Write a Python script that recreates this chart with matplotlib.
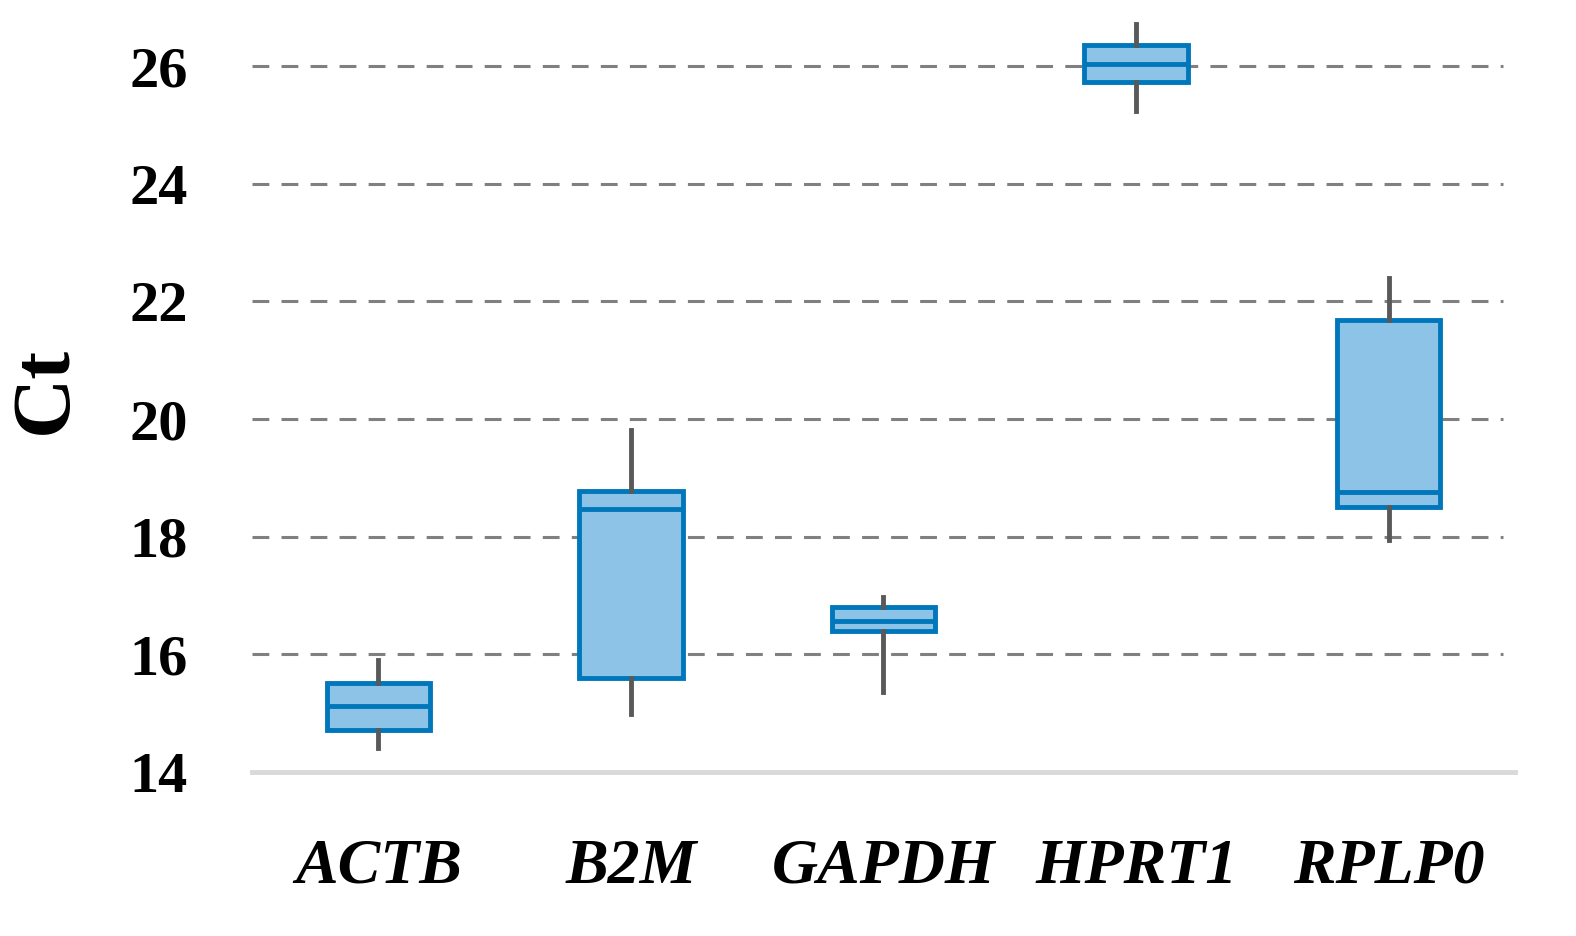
import matplotlib.pyplot as plt

genes = ['ACTB', 'B2M', 'GAPDH', 'HPRT1', 'RPLP0']
whis_lo = [14.41, 14.99, 15.36, 25.23, 17.94]
q1 = [14.72, 15.60, 16.40, 25.73, 18.50]
med = [15.12, 18.47, 16.57, 26.03, 18.76]
q3 = [15.52, 18.77, 16.81, 26.36, 21.69]
whis_hi = [15.91, 19.81, 16.97, 26.71, 22.40]
yticks = [14, 16, 18, 20, 22, 24, 26]

edge = '#0077BB'
fill = '#8DC3E6'
wcol = '#595959'

fig = plt.figure(figsize=(15.76, 9.36), dpi=100)
ax = fig.add_axes([252/1576, 1 - 772/936, (1515-252)/1576, (772-20)/936])

stats = []
for i in range(len(genes)):
    stats.append({'whislo': whis_lo[i], 'q1': q1[i], 'med': med[i],
                  'q3': q3[i], 'whishi': whis_hi[i], 'label': genes[i]})

ax.bxp(stats, positions=range(len(genes)), widths=0.41, patch_artist=True,
       showfliers=False, showcaps=False,
       boxprops=dict(facecolor=fill, edgecolor=edge, linewidth=3.5),
       medianprops=dict(color=edge, linewidth=3.5),
       whiskerprops=dict(color=wcol, linewidth=3.5), zorder=3)

ax.set_xlim(-0.5, 4.5)
ax.set_ylim(14, 26 + 46/58.67)
ax.set_yticks(yticks)
for y in yticks[1:]:
    ax.axhline(y, xmin=0, xmax=(1503-252)/(1515-252), color='#808080',
               linestyle=(0, (5.5, 4)), linewidth=2.2, zorder=1)

for s in ['top', 'right', 'left']:
    ax.spines[s].set_visible(False)
ax.spines['bottom'].set_color('#d9d9d9')
ax.spines['bottom'].set_linewidth(3.5)

ax.tick_params(axis='y', length=0, pad=46)
ax.tick_params(axis='x', length=0, pad=48)
for t in ax.get_yticklabels():
    t.set_fontfamily('Liberation Serif')
    t.set_fontweight('bold')
    t.set_fontsize(42)
ax.set_xticks(range(len(genes)))
ax.set_xticklabels(genes, fontfamily='Liberation Serif', fontweight='bold',
                   fontstyle='italic', fontsize=46)
ax.set_ylabel('Ct', fontfamily='Liberation Serif', fontweight='bold',
              fontsize=60)
ax.yaxis.set_label_coords(-(252 - 84) / 1263, 1 - (390 - 20) / 752)

fig.savefig('out.png', dpi=100)
